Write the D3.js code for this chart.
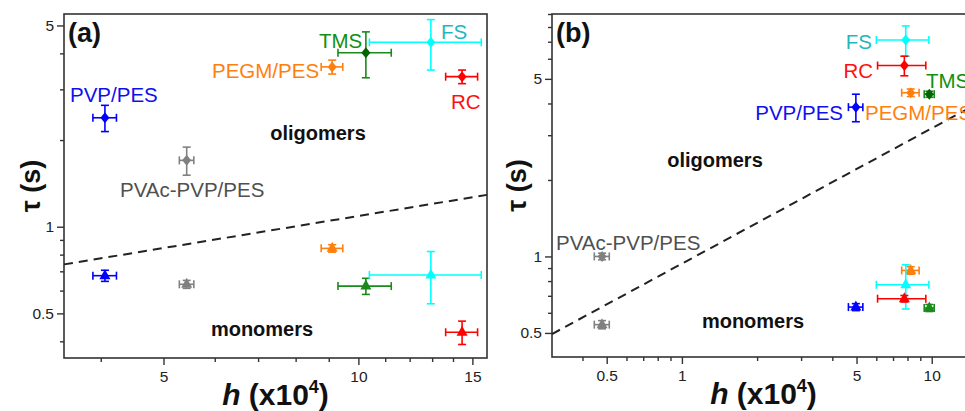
<!DOCTYPE html>
<html><head><meta charset="utf-8">
<script src="https://cdn.jsdelivr.net/npm/d3@7"></script>
<style>body{margin:0;background:#fff}svg{display:block}text{font-family:"Liberation Sans",Arial,sans-serif}</style>
</head><body><svg id="c" width="965" height="411"></svg>
<script>
// ---- data ----
const names = ["PVP/PES","PVAc-PVP/PES","PEGM/PES","TMS","FS","RC"];
const markerColors = ["#0000ff","#808080","#ff7f0e","#1a8a1a","#00ffff","#ff0000"];
const textColors = ["#1010ee","#505050","#ff7f0e","#109010","#1fb8c0","#ff1010"];

// panel (a)
const aH        = [4.06, 5.43, 9.11, 10.27, 12.94, 14.46];
const aHerr     = [0.17, 0.14, 0.35, 0.97, 2.54, 0.82];
const aOlig     = [2.39, 1.70, 3.59, 4.02, 4.37, 3.32];
const aOligErr  = [0.25, 0.19, 0.20, 0.73, 0.87, 0.18];
const aMono     = [0.676, 0.631, 0.841, 0.622, 0.68, 0.43];
const aMonoErr  = [0.03, 0.02, 0.025, 0.04, 0.14, 0.04];
const aLineX    = [3.51, 15.8];
const aLineY    = [0.74, 1.29];
const aXMajor   = [5, 10, 15];
const aXMinor   = [4, 6, 7, 8, 9, 11, 12, 13, 14];
const aYMajor   = [0.5, 1, 5];
const aYMinor   = [0.4, 0.6, 0.7, 0.8, 0.9, 2, 3, 4];

// panel (b)
const bH        = [4.97, 0.479, 8.24, 9.78, 7.87, 7.77];
const bHerr     = [0.33, 0.033, 0.66, 0.45, 1.87, 1.70];
const bOlig     = [3.87, 1.0, 4.41, 4.35, 7.11, 5.64];
const bOligErr  = [0.48, 0.03, 0.15, 0.12, 0.97, 0.50];
const bMono     = [0.632, 0.539, 0.881, 0.627, 0.774, 0.682];
const bMonoErr  = [0.02, 0.02, 0.03, 0.02, 0.153, 0.02];
const bLineX    = [0.302, 14.9];
const bLineY    = [0.495, 3.95];
const bXMajor   = [0.5, 1, 5, 10];
const bXMinor   = [0.4, 0.6, 0.7, 0.8, 0.9, 2, 3, 4, 6, 7, 8, 9];
const bYMajor   = [0.5, 1, 5];
const bYMinor   = [0.6, 0.7, 0.8, 0.9, 2, 3, 4, 6, 7, 8, 9];

const svg = d3.select("#c");

function panel(o){
  const g = svg.append("g").attr("transform",`translate(${o.left},${o.top})`);
  const x = d3.scaleLog().domain(o.xDom).range([0,o.w]);
  const y = d3.scaleLog().domain(o.yDom).range([o.h,0]);
  const fmt = d => String(d);
  // axes
  const ax = g.append("g").attr("transform",`translate(0,${o.h})`)
    .call(d3.axisBottom(x).tickValues(o.xMajor).tickFormat(fmt).tickSize(7).tickPadding(6));
  const axm = g.append("g").attr("transform",`translate(0,${o.h})`)
    .call(d3.axisBottom(x).tickValues(o.xMinor).tickFormat("").tickSize(4));
  const ay = g.append("g").call(d3.axisLeft(y).tickValues(o.yMajor).tickFormat(fmt).tickSize(7).tickPadding(3));
  const aym = g.append("g").call(d3.axisLeft(y).tickValues(o.yMinor).tickFormat("").tickSize(4));
  [ax,axm,ay,aym].forEach(a=>{
    a.select(".domain").remove();
    a.selectAll("line").attr("stroke","#333").attr("stroke-width",1.4);
    a.selectAll("text").attr("font-size",15.5).attr("fill","#222").attr("font-family","Liberation Sans, Arial, sans-serif");
  });
  // frame
  g.append("rect").attr("width",o.w).attr("height",o.h).attr("fill","none").attr("stroke","#333").attr("stroke-width",1.6);
  // dashed line
  g.append("line").attr("x1",x(o.lineX[0])).attr("y1",y(o.lineY[0]))
    .attr("x2",x(o.lineX[1])).attr("y2",y(o.lineY[1]))
    .attr("stroke","#222").attr("stroke-width",2).attr("stroke-dasharray","9,6");
  // points with error bars
  const cap = 4;
  function series(H,Herr,T,Terr,shape){
    H.forEach((h,i)=>{
      const c = markerColors[i];
      const px = x(h), py = y(T[i]);
      const x0 = x(h-Herr[i]), x1 = x(h+Herr[i]);
      const y0 = y(T[i]-Terr[i]), y1 = y(T[i]+Terr[i]);
      const e = g.append("g").attr("stroke",c).attr("stroke-width",1.6);
      e.append("line").attr("x1",x0).attr("x2",x1).attr("y1",py).attr("y2",py);
      e.append("line").attr("x1",x0).attr("x2",x0).attr("y1",py-cap).attr("y2",py+cap);
      e.append("line").attr("x1",x1).attr("x2",x1).attr("y1",py-cap).attr("y2",py+cap);
      e.append("line").attr("x1",px).attr("x2",px).attr("y1",y0).attr("y2",y1);
      e.append("line").attr("x1",px-cap).attr("x2",px+cap).attr("y1",y0).attr("y2",y0);
      e.append("line").attr("x1",px-cap).attr("x2",px+cap).attr("y1",y1).attr("y2",y1);
      const fill = (i===3 && shape==="d") ? "#006400" : c;
      if(shape==="d"){
        g.append("path").attr("d",`M${px},${py-5.5}L${px+4.5},${py}L${px},${py+5.5}L${px-4.5},${py}Z`).attr("fill",fill);
      } else {
        g.append("path").attr("d",`M${px},${py-6.5}L${px+5.5},${py+3.5}L${px-5.5},${py+3.5}Z`).attr("fill",fill);
      }
    });
  }
  series(o.H,o.Herr,o.Olig,o.OligErr,"d");
  series(o.H,o.Herr,o.Mono,o.MonoErr,"t");
  // data labels
  o.labels.forEach((p,i)=>{
    g.append("text").attr("x",p[0]).attr("y",p[1]).attr("text-anchor",p[2]||"start")
      .attr("font-size",20.5).attr("fill",textColors[i]).text(names[i]);
  });
  g.append("text").attr("x",o.olig[0]).attr("y",o.olig[1]).attr("text-anchor","middle")
    .attr("font-size",20).attr("font-weight","bold").attr("fill","#111").text("oligomers");
  g.append("text").attr("x",o.mono[0]).attr("y",o.mono[1]).attr("text-anchor","middle")
    .attr("font-size",20).attr("font-weight","bold").attr("fill","#111").text("monomers");
  g.append("text").attr("x",4).attr("y",28).attr("font-size",27).attr("font-weight","bold").attr("fill","#111").text(o.tag);
  // axis titles
  g.append("text").attr("transform",`translate(${o.yTitleX},${o.h/2}) rotate(-90)`).attr("text-anchor","middle")
    .attr("font-size",27).attr("font-weight","bold").attr("fill","#111").text("τ (s)");
  const xt = g.append("text").attr("x",o.w/2).attr("y",o.h+47).attr("text-anchor","middle")
    .attr("font-size",30).attr("font-weight","bold").attr("fill","#111");
  xt.append("tspan").attr("font-style","italic").text("h");
  xt.append("tspan").text(" (x10");
  xt.append("tspan").attr("font-size",18).attr("dy",-12).text("4");
  xt.append("tspan").attr("dy",12).text(")");
}

panel({left:64, top:14, w:423, h:344, xDom:[3.51,15.8], yDom:[0.35,5.48],
  xMajor:aXMajor, xMinor:aXMinor, yMajor:aYMajor, yMinor:aYMinor,
  H:aH, Herr:aHerr, Olig:aOlig, OligErr:aOligErr, Mono:aMono, MonoErr:aMonoErr,
  lineX:aLineX, lineY:aLineY, tag:"(a)", yTitleX:-24,
  labels:[[6,88],[56,183],[148,64],[255,34],[377,25],[387,95]],
  olig:[254,126], mono:[198,322]});

panel({left:552, top:14, w:423, h:343, xDom:[0.302,14.9], yDom:[0.402,9.0],
  xMajor:bXMajor, xMinor:bXMinor, yMajor:bYMajor, yMinor:bYMinor,
  H:bH, Herr:bHerr, Olig:bOlig, OligErr:bOligErr, Mono:bMono, MonoErr:bMonoErr,
  lineX:bLineX, lineY:bLineY, tag:"(b)", yTitleX:-26,
  labels:[[291,106,"end"],[4,236],[313,106],[374,74],[320,35,"end"],[321,64,"end"]],
  olig:[163,153], mono:[201,314]});
</script></body></html>
